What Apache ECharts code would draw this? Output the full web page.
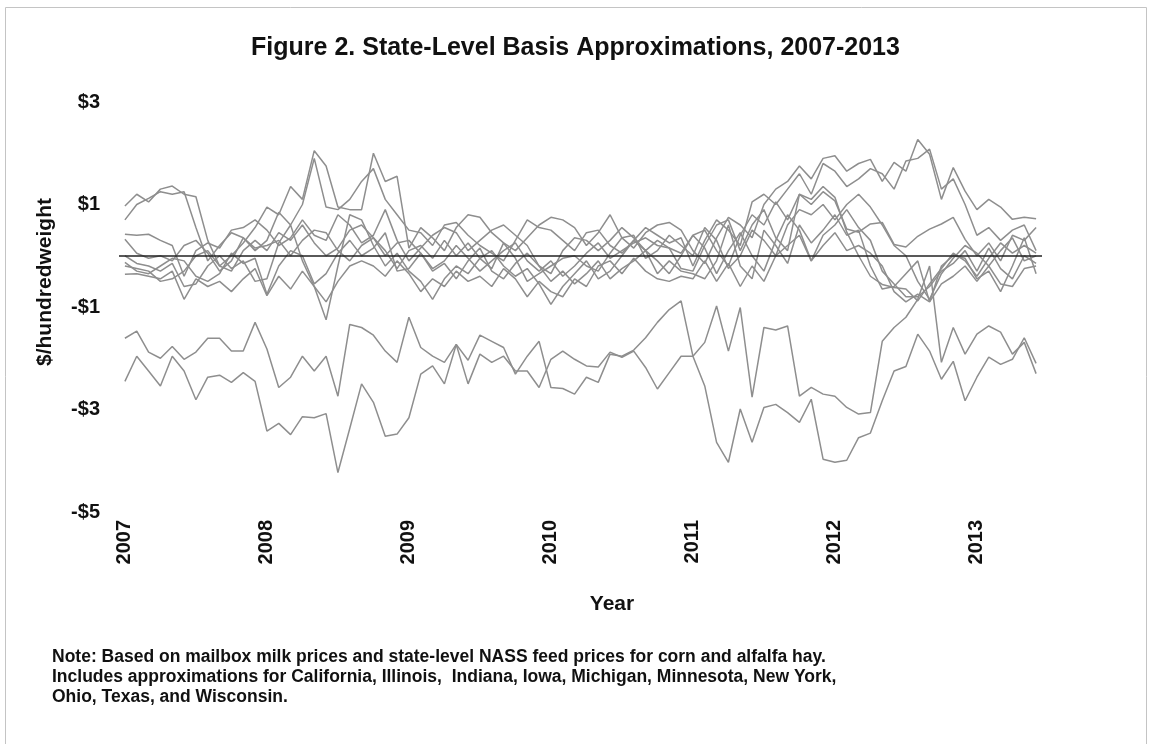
<!DOCTYPE html>
<html>
<head>
<meta charset="utf-8">
<script src="https://cdn.jsdelivr.net/npm/echarts@6/dist/echarts.min.js"></script>
<style>
html,body{margin:0;padding:0;background:#fff}
#chartmain{width:1151px;height:744px}
</style>
</head>
<body>
<div id="chartmain"></div>
<script>
// monthly basis, $/cwt, Jan 2007 onward
var years = ['2007','2008','2009','2010','2011','2012','2013'];
var yTicks = [-5,-3,-1,1,3];

var upper1 = [0.97,1.2,1.05,1.3,1.36,1.2,1.15,0.3,-0.2,0.0,0.25,0.55,
 0.95,0.8,1.35,1.1,2.05,1.75,0.95,0.9,0.9,2.0,1.45,1.55,
 0.15,0.55,0.35,0.1,0.55,0.8,0.75,0.45,0.25,0.1,0.35,0.6,
 0.75,0.7,0.55,0.2,0.45,0.8,0.35,0.15,0.45,0.6,0.65,0.5,
 0.1,-0.15,0.35,0.75,0.6,0.35,1.0,1.3,1.45,1.75,1.5,1.9,
 1.95,1.65,1.8,1.88,1.45,1.82,1.65,2.27,1.98,1.1,1.72,1.26,
 0.9,1.1,0.95,0.71,0.75,0.72];
var upper2 = [0.7,1.0,1.12,1.25,1.2,1.25,0.55,-0.1,0.2,0.45,0.35,0.1,
 0.3,0.85,0.6,1.0,1.9,0.95,0.9,1.1,1.45,1.7,1.1,0.8,
 0.5,0.45,0.2,0.6,0.65,0.4,0.2,0.05,-0.1,0.3,0.7,0.55,
 0.5,0.3,0.1,0.45,0.5,0.2,0.05,0.3,0.55,0.4,0.25,0.35,
 -0.2,0.3,0.7,0.5,0.2,1.05,1.2,1.0,1.3,1.6,1.2,1.8,
 1.65,1.35,1.5,1.7,1.6,1.3,1.85,1.9,2.08,1.3,1.5,1.0,
 0.4,0.55,0.3,0.5,0.6,0.1];
var mid1 = [0.42,0.4,0.42,0.3,0.2,-0.4,0.1,0.25,0.15,0.5,0.55,0.7,
 0.5,0.2,0.35,0.7,0.4,0.3,0.8,0.6,0.25,0.4,0.9,0.3,
 -0.1,0.15,0.4,0.55,0.45,0.1,0.3,0.5,0.6,0.4,0.2,-0.2,
 -0.35,0.1,0.35,0.3,0.1,0.3,0.55,0.35,0.1,0.3,0.15,0.05,
 0.4,0.5,0.1,-0.2,0.4,0.8,0.6,1.05,0.7,1.2,1.0,1.25,
 1.07,0.52,0.46,0.62,0.65,0.22,0.17,0.38,0.52,0.62,0.75,0.32,
 0.0,0.25,-0.1,0.4,0.3,0.55];
var mid2 = [0.32,0.05,-0.05,0.0,-0.1,0.2,0.3,0.05,-0.3,-0.1,0.35,0.15,
 0.2,0.3,0.0,0.3,0.5,0.45,0.1,-0.1,0.2,0.35,0.0,0.25,
 0.3,0.05,-0.25,-0.1,0.2,-0.05,-0.3,-0.1,0.1,0.25,-0.1,-0.3,
 -0.1,-0.4,-0.2,0.05,0.25,-0.05,0.1,0.25,0.35,0.2,0.15,-0.25,
 -0.3,0.2,0.6,0.7,0.1,0.6,0.9,0.35,0.1,1.2,1.1,1.35,
 1.14,0.46,0.0,-0.4,-0.56,-0.62,-0.65,-0.88,-0.55,-0.25,0.05,-0.1,
 -0.4,-0.05,0.25,0.05,0.2,0.05];
var mid3 = [0.0,-0.15,-0.2,-0.3,-0.15,-0.6,-0.55,-0.2,0.0,-0.25,-0.1,-0.5,
 -0.45,0.25,0.6,-0.1,-0.6,-1.25,-0.2,0.8,0.7,0.2,-0.2,0.05,
 -0.3,-0.5,-0.85,-0.45,-0.2,-0.35,-0.05,0.1,-0.2,-0.4,-0.25,-0.55,
 -0.95,-0.6,-0.35,-0.1,-0.45,-0.3,0.0,0.3,0.1,-0.35,-0.1,-0.3,
 -0.35,-0.45,-0.1,0.6,-0.2,-0.45,0.5,0.2,-0.15,0.6,0.25,0.5,
 0.8,0.4,0.5,-0.2,-0.65,-0.6,-0.35,-0.1,-0.9,-0.2,0.0,-0.05,
 -0.45,-0.3,-0.7,-0.2,0.35,-0.35];
var mid4 = [-0.13,-0.3,-0.35,-0.2,-0.05,-0.1,-0.4,-0.5,-0.35,0.05,-0.15,-0.05,
 -0.75,-0.2,0.1,0.0,-0.55,-0.35,0.05,0.3,0.0,0.15,0.45,-0.3,
 -0.25,0.05,-0.3,-0.15,-0.45,-0.1,0.15,-0.3,-0.45,-0.15,0.05,-0.2,
 -0.5,-0.3,-0.55,-0.35,-0.1,-0.45,-0.25,-0.1,0.1,-0.1,-0.35,0.0,
 0.4,0.15,-0.35,0.1,0.45,0.0,-0.3,0.3,0.8,0.5,-0.1,0.4,
 0.6,0.9,0.55,0.3,-0.3,-0.55,-0.8,-0.8,-0.6,-0.3,-0.15,0.1,
 -0.3,0.15,-0.25,-0.45,0.0,-0.15];
var mid5 = [-0.2,-0.25,-0.3,-0.5,-0.45,-0.3,0.0,0.1,-0.2,-0.3,0.1,0.3,
 0.1,0.45,0.3,0.6,0.25,0.0,0.15,0.5,0.6,0.35,0.1,-0.25,
 0.1,0.2,-0.05,0.3,0.0,0.25,-0.05,-0.25,0.25,-0.05,-0.5,-0.35,
 -0.2,-0.05,0.0,-0.2,-0.3,0.05,0.35,0.4,-0.05,0.1,0.4,0.2,
 0.0,0.55,0.3,-0.25,0.0,0.5,0.3,0.0,0.6,0.9,0.8,1.0,
 0.7,1.0,1.2,0.95,0.6,0.2,0.0,-0.5,-0.85,-0.35,-0.05,0.2,
 0.05,-0.2,0.1,0.35,-0.1,0.0];
var mid6 = [-0.36,-0.35,-0.4,-0.45,-0.3,-0.85,-0.45,-0.6,-0.5,-0.7,-0.45,-0.25,
 -0.78,-0.4,-0.65,-0.3,-0.6,-0.9,-0.5,-0.2,-0.1,-0.2,-0.4,-0.1,
 -0.35,-0.7,-0.45,-0.6,-0.3,-0.5,-0.4,-0.6,-0.25,-0.45,-0.8,-0.5,
 -0.7,-0.8,-0.45,-0.6,-0.2,-0.1,-0.35,-0.05,-0.3,-0.45,-0.5,-0.4,
 -0.45,-0.1,-0.5,-0.15,-0.6,-0.2,-0.5,0.0,0.2,0.4,-0.1,0.2,
 0.45,0.1,0.2,0.05,-0.2,-0.7,-0.9,-0.75,-0.9,-0.55,-0.4,-0.2,
 -0.5,-0.2,-0.55,-0.6,-0.25,-0.2];
var low1 = [-1.61,-1.47,-1.88,-2.0,-1.77,-2.02,-1.88,-1.61,-1.61,-1.86,-1.86,-1.3,
 -1.82,-2.57,-2.37,-1.96,-2.25,-1.96,-2.74,-1.34,-1.4,-1.55,-1.86,-2.08,
 -1.2,-1.79,-1.96,-2.08,-1.73,-2.04,-1.55,-1.67,-1.79,-2.31,-1.96,-1.67,
 -2.57,-2.59,-2.7,-2.37,-2.47,-1.92,-1.96,-1.84,-1.6,-1.3,-1.05,-0.88,
 -1.96,-2.54,-3.64,-4.03,-2.99,-3.64,-2.96,-2.9,-3.06,-3.25,-2.8,-3.97,
 -4.03,-3.99,-3.55,-3.46,-2.83,-2.25,-2.16,-1.53,-1.86,-2.41,-2.06,-2.83,
 -2.37,-1.98,-2.12,-2.02,-1.6,-2.1];
var low2 = [-2.45,-1.96,-2.25,-2.54,-1.96,-2.25,-2.81,-2.37,-2.33,-2.47,-2.28,-2.45,
 -3.42,-3.27,-3.49,-3.14,-3.16,-3.08,-4.23,-3.37,-2.5,-2.86,-3.52,-3.48,
 -3.16,-2.31,-2.15,-2.5,-1.73,-2.5,-1.92,-2.08,-1.96,-2.25,-2.25,-2.57,
 -2.02,-1.86,-2.02,-2.15,-2.17,-1.88,-1.98,-1.86,-2.18,-2.6,-2.28,-1.96,
 -1.96,-1.69,-0.98,-1.86,-1.01,-2.76,-1.4,-1.45,-1.37,-2.74,-2.57,-2.7,
 -2.74,-2.96,-3.09,-3.06,-1.67,-1.4,-1.2,-0.85,-0.2,-2.08,-1.4,-1.92,
 -1.53,-1.37,-1.49,-1.92,-1.69,-2.3];

var allSeries = [upper1, upper2, mid1, mid2, mid3, mid4, mid5, mid6, low1, low2];

// month categories
var months = [];
years.forEach(function (y) {
    for (var m = 1; m <= 12; m++) months.push(y + '-' + (m < 10 ? '0' : '') + m);
});
months = months.slice(0, upper1.length);

var font = '"Liberation Sans", Arial, sans-serif';

var series = allSeries.map(function (d, i) {
    return {
        name: 'state' + (i + 1),
        type: 'line',
        data: d,
        symbol: 'none',
        lineStyle: {color: '#8e8e8e', width: 1.5},
        z: 2
    };
});
// zero line
series[0].markLine = {
    silent: true,
    symbol: ['none', 'none'],
    label: {show: false},
    lineStyle: {color: '#222', width: 1.5, type: 'solid'},
    data: [{yAxis: 0}],
    z: 5
};

var option = {
    animation: false,
    backgroundColor: '#fff',
    title: {
        text: 'Figure 2. State-Level Basis Approximations, 2007-2013',
        left: 'center',
        top: 31,
        textStyle: {fontFamily: font, fontSize: 25, fontWeight: 'bold', color: '#111'}
    },
    grid: {left: 119, right: 109, top: 102, bottom: 232},
    xAxis: {
        type: 'category',
        data: months,
        boundaryGap: true,
        axisLine: {show: false},
        axisTick: {show: false},
        splitLine: {show: false},
        axisLabel: {
            interval: 11,
            rotate: 90,
            margin: 8,
            formatter: function (v) { return v.slice(0, 4); },
            fontFamily: font, fontSize: 20, fontWeight: 'bold', color: '#111'
        }
    },
    yAxis: {
        type: 'value',
        min: yTicks[0],
        max: yTicks[yTicks.length - 1],
        interval: 2,
        axisLine: {show: false},
        axisTick: {show: false},
        splitLine: {show: false},
        axisLabel: {
            margin: 19,
            formatter: function (v) { return (v < 0 ? '-$' : '$') + Math.abs(v); },
            fontFamily: font, fontSize: 20, fontWeight: 'bold', color: '#111'
        }
    },
    graphic: [
        {type: 'rect', silent: true, z: -1,
         shape: {x: 5.5, y: 7.5, width: 1141, height: 760},
         style: {fill: 'none', stroke: '#c4c4c4', lineWidth: 1}},
        {type: 'text', x: 45, y: 282, rotation: Math.PI / 2,
         style: {text: '$/hundredweight', fill: '#111', font: 'bold 21px ' + font,
                 textAlign: 'center', textVerticalAlign: 'middle'}},
        {type: 'text', x: 612, y: 604,
         style: {text: 'Year', fill: '#111', font: 'bold 21px ' + font,
                 textAlign: 'center', textVerticalAlign: 'middle'}},
        {type: 'text', left: 52, top: 647,
         style: {text: 'Note: Based on mailbox milk prices and state-level NASS feed prices for corn and alfalfa hay.\n' +
                       'Includes approximations for California, Illinois,  Indiana, Iowa, Michigan, Minnesota, New York,\n' +
                       'Ohio, Texas, and Wisconsin.',
                 fill: '#111', font: 'bold 17.5px ' + font, lineHeight: 20}}
    ],
    series: series
};

var myChart = echarts.init(document.getElementById('chartmain'));
myChart.setOption(option);
</script>
</body>
</html>
